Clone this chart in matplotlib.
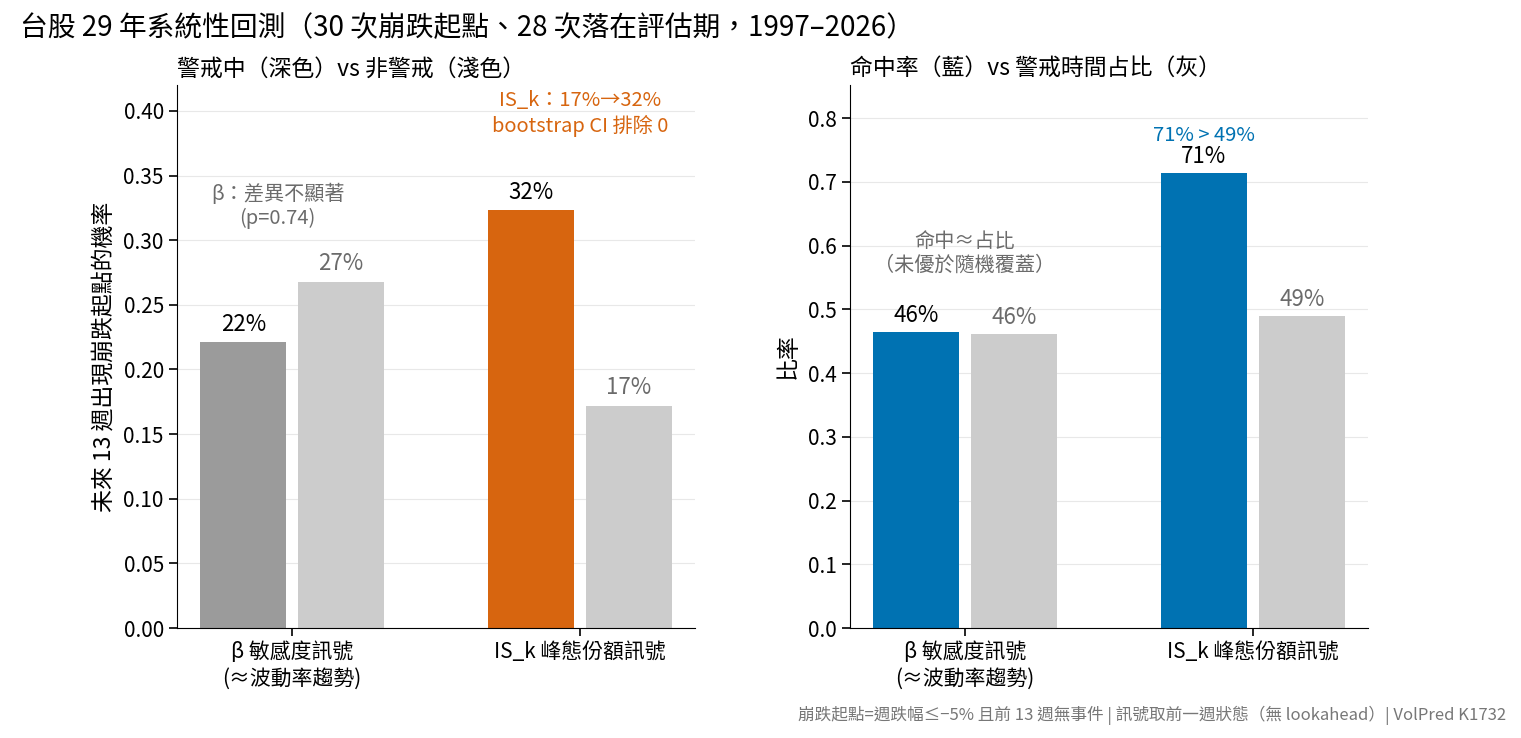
import numpy as np
import matplotlib.pyplot as plt

plt.rcParams['font.family'] = ['Noto Sans CJK TC', 'DejaVu Sans']
plt.rcParams['axes.unicode_minus'] = False

# data
groups = ["β 敏感度訊號\n(≈波動率趨勢)", "IS_k 峰態份額訊號"]
alert_prob = [0.221, 0.323]      # 警戒中
normal_prob = [0.268, 0.172]     # 非警戒
hit_rate = [0.464, 0.714]        # 命中率
alert_share = [0.461, 0.490]     # 警戒時間占比

GRAY_D = "#9b9b9b"
GRAY_L = "#cccccc"
ORANGE = "#d7650f"
BLUE = "#0072b2"
TXT_G = "#6b6b6b"

fig = plt.figure(figsize=(15.21, 7.38), dpi=100)
ax1 = fig.add_axes([0.1164, 0.149, 0.3406, 0.7358])
ax2 = fig.add_axes([0.5588, 0.149, 0.3406, 0.7358])

x = np.arange(len(groups))
w = 0.30
off = 0.17

def style(ax):
    ax.spines['top'].set_visible(False)
    ax.spines['right'].set_visible(False)
    ax.grid(axis='y', color='#e8e8e8', linewidth=0.8)
    ax.set_axisbelow(True)
    ax.set_xticks(x)
    ax.set_xticklabels(groups, fontsize=15, linespacing=1.25)
    ax.tick_params(axis='y', labelsize=15)
    ax.tick_params(axis='both', length=6, width=1.2)
    ax.set_xlim(-0.4, 1.4)

# left panel
ax1.bar(x - off, alert_prob, w, color=[GRAY_D, ORANGE])
ax1.bar(x + off, normal_prob, w, color=GRAY_L)
for xi, v in zip(x - off, alert_prob):
    ax1.text(xi, v + 0.005, f"{v:.0%}", ha='center', va='bottom', fontsize=16, color='black')
for xi, v in zip(x + off, normal_prob):
    ax1.text(xi, v + 0.005, f"{v:.0%}", ha='center', va='bottom', fontsize=16, color=TXT_G)
ax1.set_ylim(0, 0.42)
ax1.set_yticks(np.arange(0, 0.41, 0.05))
ax1.set_yticklabels([f"{t:.2f}" for t in np.arange(0, 0.41, 0.05)])
style(ax1)
ax1.set_ylabel("未來 13 週出現崩跌起點的機率", fontsize=16.5, labelpad=6)
ax1.set_title("警戒中（深色）vs 非警戒（淺色）", loc='left', fontsize=16.5, pad=7)
ax1.text(-0.05, 0.326, "β：差異不顯著\n(p=0.74)", ha='center', va='center', fontsize=14.5, color=TXT_G, linespacing=1.2)
ax1.text(1.0, 0.398, "IS_k：17%→32%\nbootstrap CI 排除 0", ha='center', va='center', fontsize=14.5, color=ORANGE, linespacing=1.2)

# right panel
ax2.bar(x - off, hit_rate, w, color=BLUE)
ax2.bar(x + off, alert_share, w, color=GRAY_L)
for xi, v in zip(x - off, hit_rate):
    ax2.text(xi, v + 0.008, f"{v:.0%}", ha='center', va='bottom', fontsize=16, color='black')
for xi, v in zip(x + off, alert_share):
    ax2.text(xi, v + 0.008, f"{v:.0%}", ha='center', va='bottom', fontsize=16, color=TXT_G)
ax2.set_ylim(0, 0.852)
ax2.set_yticks(np.arange(0, 0.81, 0.1))
ax2.set_yticklabels([f"{t:.1f}" for t in np.arange(0, 0.81, 0.1)])
style(ax2)
ax2.set_ylabel("比率", fontsize=16.5, labelpad=6)
ax2.set_title("命中率（藍）vs 警戒時間占比（灰）", loc='left', fontsize=16.5, pad=7)
ax2.text(0, 0.588, "命中≈占比\n（未優於隨機覆蓋）", ha='center', va='center', fontsize=14.5, color=TXT_G, linespacing=1.2)
ax2.text(1 - off, 0.773, f"{hit_rate[1]:.0%} > {alert_share[1]:.0%}", ha='center', va='center', fontsize=14.5, color=BLUE)

fig.text(0.013, 0.962, "台股 29 年系統性回測（30 次崩跌起點、28 次落在評估期，1997–2026）", fontsize=20, ha='left', va='center')
fig.text(0.990, 0.031, "崩跌起點=週跌幅≤−5% 且前 13 週無事件 | 訊號取前一週狀態（無 lookahead）| VolPred K1732",
         fontsize=12, ha='right', va='center', color='#777777')

fig.savefig("out.png", dpi=100)
